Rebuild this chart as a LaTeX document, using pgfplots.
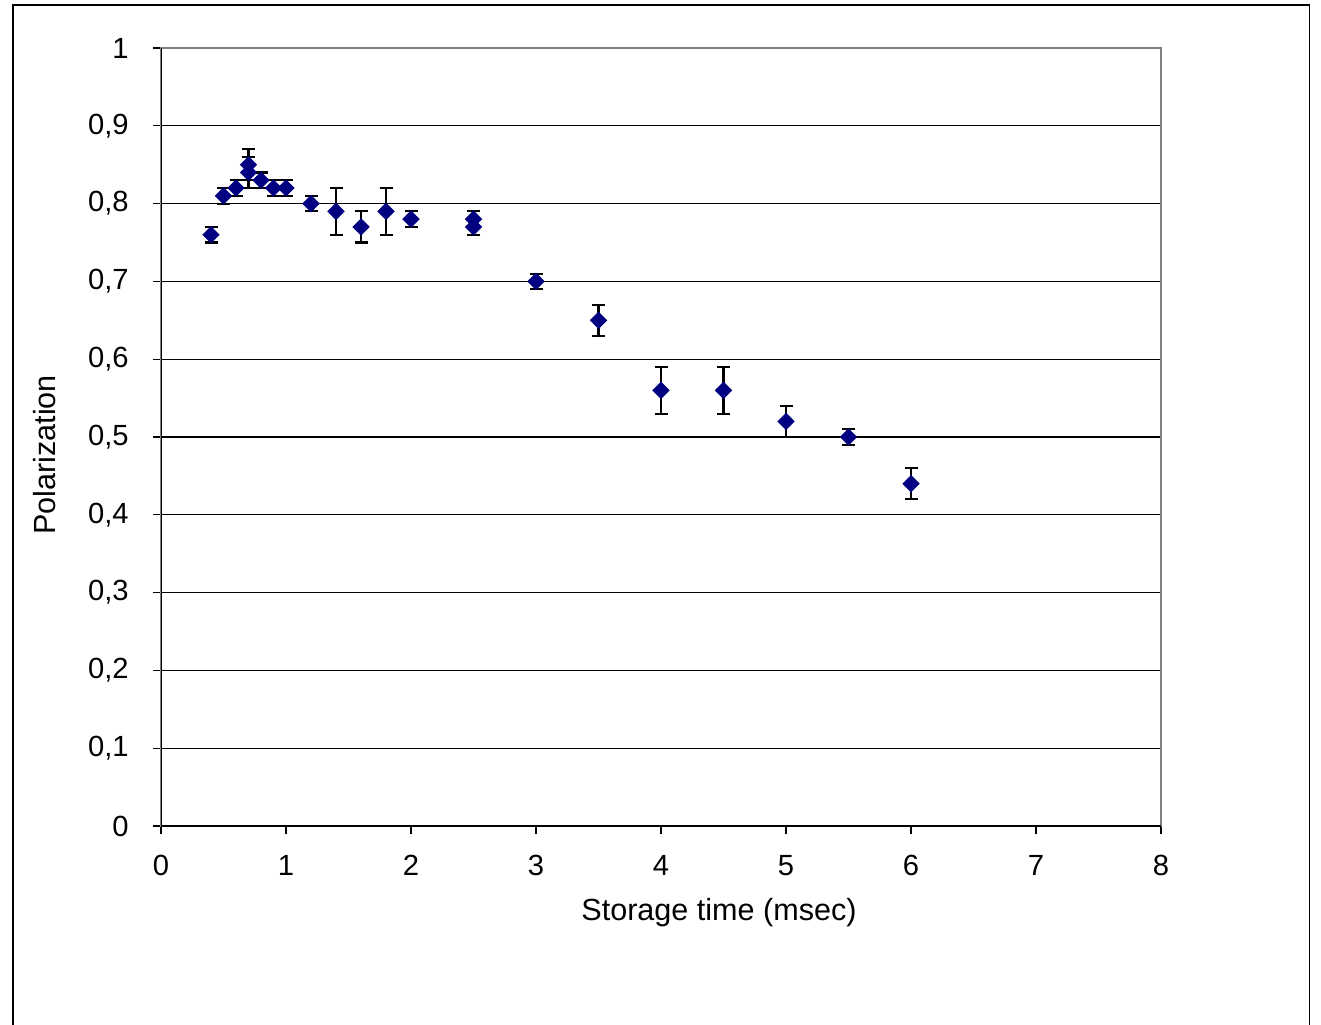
\documentclass[border=0pt]{standalone}
\usepackage{pgfplots}
\pgfplotsset{compat=1.18}
\usepackage{fontspec}
\setmainfont{Liberation Sans}
\definecolor{navy}{RGB}{0,0,128}
\begin{document}
\begin{tikzpicture}[x=1mm,y=1mm]
\useasboundingbox (0,0) rectangle (132.1,102.4);
\draw[line width=0.3pt] (1.3,-2) rectangle (130.9,101.9);
\begin{axis}[
  at={(16.1mm,19.8mm)}, anchor=south west,
  scale only axis, width=100mm, height=77.8mm,
  xmin=0, xmax=8, ymin=0, ymax=1,
  xtick={0,1,...,8}, ytick={0,0.1,...,1},
  xtick pos=bottom, ytick pos=left,
  tick align=outside, major tick length=0.8mm,
  tick style={black, line width=0.3pt},
  ymajorgrids, grid style={black, line width=0.3pt},
  axis line style={draw=gray, line width=0.6pt},
  /pgf/number format/assume math mode=true,
  /pgf/number format/use comma, /pgf/number format/fixed,
  ticklabel style={font=\fontsize{8.3}{9}\selectfont},
  label style={font=\fontsize{8.7}{10}\selectfont},
  xticklabel style={yshift=-0.9mm},
  yticklabel style={xshift=-1.2mm},
  xlabel={Storage time (msec)},
  ylabel={Polarization},
  xlabel style={at={(axis description cs:0.558,-0.111)}, anchor=center},
  ylabel style={at={(axis description cs:-0.116,0.477)}, anchor=center},
]
\addplot[only marks, mark=square*, mark size=1.55pt, mark options={fill=navy, draw=navy, rotate=45},
  error bars/.cd, y dir=both, y explicit,
  error bar style={black, line width=0.6pt},
  error mark options={rotate=90, mark size=0.65mm, line width=0.6pt, black}]
coordinates {
(0.4,0.76) +- (0,0.01)
(0.5,0.81) +- (0,0.01)
(0.6,0.82) +- (0,0.01)
(0.7,0.85) +- (0,0.02)
(0.7,0.84) +- (0,0.02)
(0.8,0.83) +- (0,0.01)
(0.9,0.82) +- (0,0.01)
(1.0,0.82) +- (0,0.01)
(1.2,0.80) +- (0,0.01)
(1.4,0.79) +- (0,0.03)
(1.6,0.77) +- (0,0.02)
(1.8,0.79) +- (0,0.03)
(2.0,0.78) +- (0,0.01)
(2.5,0.78) +- (0,0.01)
(2.5,0.77) +- (0,0.01)
(3.0,0.70) +- (0,0.01)
(3.5,0.65) +- (0,0.02)
(4.0,0.56) +- (0,0.03)
(4.5,0.56) +- (0,0.03)
(5.0,0.52) +- (0,0.02)
(5.5,0.50) +- (0,0.01)
(6.0,0.44) +- (0,0.02)
};
\draw[black, line width=0.6pt] (rel axis cs:0,1) -- (rel axis cs:0,0) -- (rel axis cs:1,0);
\end{axis}
\end{tikzpicture}
\end{document}
